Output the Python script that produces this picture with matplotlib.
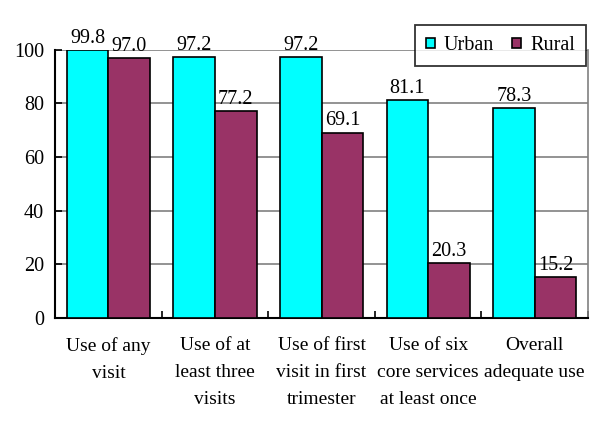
import matplotlib
matplotlib.use("Agg")
import matplotlib.pyplot as plt
import numpy as np

categories = ["Use of any\nvisit", "Use of at\nleast three\nvisits", "Use of first\nvisit in first\ntrimester",
              "Use of six\ncore services\nat least once", "Overall\nadequate use"]
urban = [99.8, 97.2, 97.2, 81.1, 78.3]
rural = [97.0, 77.2, 69.1, 20.3, 15.2]
series_names = ["Urban", "Rural"]
yticks = [0, 20, 40, 60, 80, 100]

plt.rcParams['font.family'] = ['Liberation Serif', 'DejaVu Serif']
fs = 14

fig = plt.figure(figsize=(6, 4.26), dpi=100)
ax = fig.add_axes([0.092, 0.254, 0.888, 0.629])

x = np.arange(len(categories))
w = 0.39
b1 = ax.bar(x - w/2, urban, w, color="#00FFFF", edgecolor="black", linewidth=1.2, label=series_names[0], zorder=3)
b2 = ax.bar(x + w/2, rural, w, color="#993366", edgecolor="black", linewidth=1.2, label=series_names[1], zorder=3)

for bars, vals in ((b1, urban), (b2, rural)):
    for r, v in zip(bars, vals):
        ax.text(r.get_x() + r.get_width()/2, v + 0.8, f"{v:.1f}", ha="center", va="bottom", fontsize=fs + 0.5, zorder=4)

ax.set_xlim(-0.5, len(categories) - 0.5)
ax.set_ylim(0, 100)
ax.set_yticks(yticks)
ax.set_yticklabels([str(t) for t in yticks], fontsize=fs + 0.5)
ax.yaxis.grid(True, color="#808080", linewidth=1.2, zorder=0)
ax.tick_params(axis="y", direction="in", length=5, width=1.2, pad=8)

ax.set_xticks(x)
ax.set_xticklabels(categories, fontsize=fs, linespacing=1.75)
ax.tick_params(axis="x", length=0, pad=14)
ax.set_xticks(np.arange(len(categories) + 1) - 0.5, minor=True)
ax.tick_params(axis="x", which="minor", direction="in", length=5, width=1.2)

for s in ("left", "bottom"):
    ax.spines[s].set_linewidth(1.5)
    ax.spines[s].set_color("black")
ax.spines["top"].set_visible(False)
ax.spines["right"].set_color("#808080")
ax.spines["right"].set_linewidth(1.2)

leg = ax.legend(loc="upper right", ncol=2, fontsize=fs + 0.5, frameon=True,
                fancybox=False, edgecolor="black", handlelength=0.45, handleheight=0.45, columnspacing=0.9,
                handletextpad=0.45, borderpad=0.55, borderaxespad=0,
                bbox_to_anchor=(0.977, 0.941), bbox_transform=fig.transFigure)
leg.get_frame().set_linewidth(1.3)
leg.set_zorder(5)

fig.savefig("out.png", dpi=100)
